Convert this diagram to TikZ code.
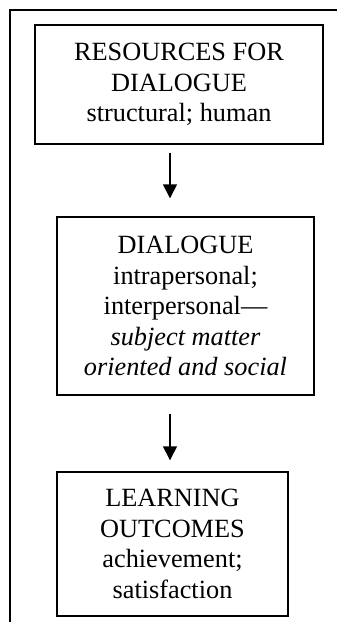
\documentclass[tikz,border=0pt]{standalone}
\usepackage{fontspec}
\setmainfont{Liberation Serif}
\usetikzlibrary{arrows.meta}
\begin{document}
\begin{tikzpicture}[x=1pt,y=-1pt,
  box/.style={draw, line width=1.4pt, align=center, inner sep=0pt,
    font=\fontsize{26.3pt}{30.5pt}\selectfont},
  arr/.style={line width=1.4pt, -{Triangle[width=14pt,length=14pt]}},
  frame/.style={line width=1.4pt}]
\useasboundingbox (0,0) rectangle (337,622);
\draw[frame] (337,10) -- (10,10) -- (10,622);
\node[box, minimum width=288pt, minimum height=119pt] (b1) at (179,84.5)
  {RESOURCES FOR\\DIALOGUE\\structural; human};
\node[box, minimum width=257pt, minimum height=178pt] (b2) at (185.5,306)
  {DIALOGUE\\intrapersonal;\\interpersonal—\\\textit{subject matter}\\\textit{oriented and social}};
\node[box, minimum width=231pt, minimum height=144pt] (b3) at (172.5,544)
  {LEARNING\\OUTCOMES\\achievement;\\satisfaction};
\coordinate (ax) at (170,0);
\draw[arr] ([yshift=-8pt]b1.south -| ax) -- ([yshift=18pt]b2.north -| ax);
\draw[arr] ([yshift=-18pt]b2.south -| ax) -- ([yshift=11pt]b3.north -| ax);
\end{tikzpicture}
\end{document}
